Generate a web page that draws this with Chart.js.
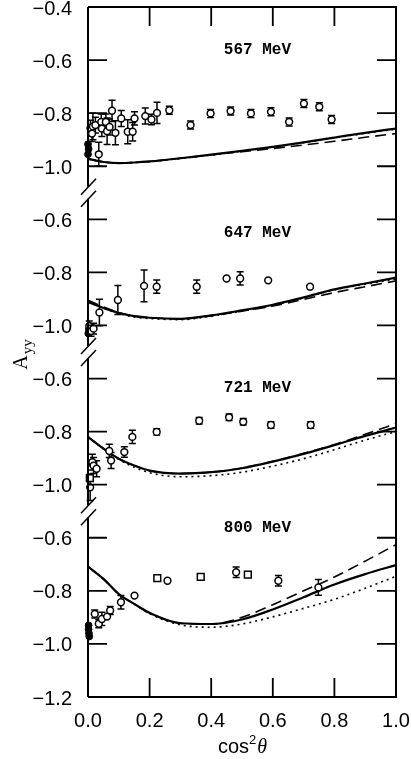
<!DOCTYPE html>
<html>
<head>
<meta charset="utf-8">
<script src="https://cdn.jsdelivr.net/npm/chart.js@4.4.1/dist/chart.umd.min.js"></script>
<style>
  html, body { margin: 0; padding: 0; background: #fff; }
  #grafico { display: block; }
</style>
</head>
<body>
<canvas id="grafico" width="411" height="759"></canvas>
<script>
// ✅ Datos: cuatro paneles apilados (567, 647, 721, 800 MeV)
const energias = ['567 MeV', '647 MeV', '721 MeV', '800 MeV'];
const desplazamientos = [1.8, 1.2, 0.6, 0.0];      // cada panel se sube en el eje virtual
const alturaEtiqueta = [-0.562, -0.652, -0.634, -0.562];

// eje Y virtual de -1.2 a 1.4, con etiquetas que se repiten por panel
const yTicks = [-1.2, -1.0, -0.8, -0.6, -0.4, -0.2, 0.0, 0.2, 0.4, 0.6, 0.8, 1.0, 1.2, 1.4];
const yTickLabels = ['-1.2', '-1.0', '-0.8', '-0.6', '-1.0', '-0.8', '-0.6', '-1.0', '-0.8', '-0.6', '-1.0', '-0.8', '-0.6', '-0.4'];
const xTicks = [0.0, 0.2, 0.4, 0.6, 0.8, 1.0];

// curvas teóricas
const curvaX = [0, 0.05, 0.1, 0.15, 0.2, 0.3, 0.4, 0.5, 0.6, 0.7, 0.8, 0.9, 1.0];

const solido567 = [-0.972, -0.984, -0.988, -0.986, -0.982, -0.970, -0.956, -0.942, -0.927, -0.910, -0.892, -0.874, -0.858];
const guion567  = [-0.972, -0.984, -0.988, -0.986, -0.982, -0.970, -0.957, -0.945, -0.933, -0.920, -0.906, -0.891, -0.877];
const punto567  = [-0.972, -0.984, -0.988, -0.986, -0.983, -0.971, -0.958, -0.943, -0.928, -0.911, -0.893, -0.876, -0.860];

const solido647 = [-0.912, -0.934, -0.953, -0.965, -0.971, -0.975, -0.962, -0.943, -0.922, -0.894, -0.864, -0.842, -0.820];
const guion647  = [-0.905, -0.930, -0.951, -0.964, -0.971, -0.975, -0.963, -0.946, -0.927, -0.902, -0.876, -0.854, -0.832];
const punto647  = [-0.912, -0.935, -0.955, -0.968, -0.974, -0.978, -0.965, -0.946, -0.924, -0.896, -0.866, -0.845, -0.825];

const solido721 = [-0.820, -0.864, -0.902, -0.928, -0.947, -0.958, -0.953, -0.938, -0.913, -0.884, -0.851, -0.816, -0.785];
const guion721  = [-0.820, -0.864, -0.902, -0.928, -0.947, -0.958, -0.953, -0.937, -0.912, -0.882, -0.849, -0.810, -0.770];
const punto721  = [-0.820, -0.865, -0.905, -0.934, -0.955, -0.970, -0.966, -0.953, -0.930, -0.902, -0.868, -0.832, -0.800];

const solido800 = [-0.709, -0.755, -0.812, -0.849, -0.883, -0.922, -0.925, -0.908, -0.870, -0.824, -0.776, -0.737, -0.703];
const guion800  = [-0.709, -0.755, -0.812, -0.849, -0.883, -0.922, -0.925, -0.900, -0.852, -0.800, -0.748, -0.688, -0.626];
const punto800  = [-0.709, -0.755, -0.812, -0.850, -0.886, -0.928, -0.937, -0.925, -0.898, -0.866, -0.832, -0.790, -0.745];

// datos experimentales (círculos abiertos, con error)
const ptsX567 = [0.008, 0.013, 0.016, 0.024, 0.035, 0.043, 0.045, 0.058, 0.062, 0.070, 0.078, 0.089, 0.108, 0.129, 0.145, 0.151, 0.186, 0.206, 0.224, 0.264, 0.333, 0.398, 0.463, 0.529, 0.594, 0.653, 0.701, 0.751, 0.791];
const ptsY567 = [-0.857, -0.877, -0.850, -0.845, -0.955, -0.833, -0.858, -0.833, -0.868, -0.852, -0.791, -0.874, -0.820, -0.870, -0.870, -0.820, -0.811, -0.824, -0.799, -0.789, -0.845, -0.801, -0.792, -0.801, -0.795, -0.833, -0.764, -0.776, -0.824];
const ptsE567 = [0.03, 0.03, 0.05, 0.03, 0.045, 0.03, 0.03, 0.03, 0.05, 0.03, 0.04, 0.045, 0.03, 0.045, 0.035, 0.025, 0.03, 0.02, 0.04, 0.015, 0.015, 0.015, 0.015, 0.015, 0.015, 0.015, 0.015, 0.015, 0.015];
const llenoX567 = [0.0, 0.0, 0.002];
const llenoY567 = [-0.917, -0.955, -0.935];

const ptsX647 = [0.004, 0.010, 0.018, 0.037, 0.097, 0.182, 0.223, 0.353, 0.450, 0.494, 0.585, 0.721];
const ptsY647 = [-1.003, -1.021, -1.012, -0.951, -0.904, -0.851, -0.854, -0.854, -0.823, -0.823, -0.830, -0.854];
const ptsE647 = [0.02, 0.02, 0.02, 0.05, 0.055, 0.06, 0.025, 0.025, 0, 0.025, 0, 0];
const llenoX647 = [0.001, 0.003];
const llenoY647 = [-1.030, -1.015];

const ptsX721 = [0.007, 0.014, 0.018, 0.028, 0.069, 0.075, 0.118, 0.144, 0.223, 0.361, 0.458, 0.504, 0.594, 0.723];
const ptsY721 = [-1.010, -0.915, -0.928, -0.940, -0.873, -0.909, -0.877, -0.820, -0.801, -0.759, -0.746, -0.763, -0.775, -0.775];
const ptsE721 = [0.05, 0.03, 0.03, 0.03, 0.025, 0.03, 0.02, 0.025, 0.012, 0.012, 0.012, 0.012, 0.012, 0.012];
const llenoX721 = [0.016];
const llenoY721 = [-0.925];
const cuadX721 = [0.006];
const cuadY721 = [-0.975];

const ptsX800 = [0.022, 0.035, 0.045, 0.062, 0.072, 0.107, 0.151, 0.258, 0.481, 0.618, 0.748];
const ptsY800 = [-0.887, -0.924, -0.906, -0.897, -0.874, -0.843, -0.818, -0.762, -0.730, -0.762, -0.787];
const ptsE800 = [0.015, 0.015, 0.025, 0, 0.015, 0.025, 0, 0, 0.02, 0.02, 0.03];
const llenoX800 = [0.002, 0.002, 0.003, 0.004];
const llenoY800 = [-0.930, -0.945, -0.960, -0.972];
const cuadX800 = [0.225, 0.366, 0.519];
const cuadY800 = [-0.752, -0.747, -0.739];

const paneles = [
  { solido: solido567, guion: guion567, punto: punto567, px: ptsX567, py: ptsY567, pe: ptsE567, lx: llenoX567, ly: llenoY567, cx: [], cy: [] },
  { solido: solido647, guion: guion647, punto: punto647, px: ptsX647, py: ptsY647, pe: ptsE647, lx: llenoX647, ly: llenoY647, cx: [], cy: [] },
  { solido: solido721, guion: guion721, punto: punto721, px: ptsX721, py: ptsY721, pe: ptsE721, lx: llenoX721, ly: llenoY721, cx: cuadX721, cy: cuadY721 },
  { solido: solido800, guion: guion800, punto: punto800, px: ptsX800, py: ptsY800, pe: ptsE800, lx: llenoX800, ly: llenoY800, cx: cuadX800, cy: cuadY800 }
];

// ✅ Construir los datasets (valores desplazados al eje virtual)
const datasets = [];
const barrasError = [];
paneles.forEach((p, i) => {
  const d = desplazamientos[i];
  const curva = (arr, dash, width) => ({
    type: 'line',
    data: curvaX.map((x, k) => ({ x: x, y: arr[k] + d })),
    borderColor: '#000',
    borderWidth: width,
    borderDash: dash,
    pointRadius: 0,
    tension: 0.4,
    cubicInterpolationMode: 'monotone',
    fill: false,
    order: 2
  });
  datasets.push(curva(p.solido, [], 2.2));
  datasets.push(curva(p.guion, [11, 6], 1.6));
  datasets.push(curva(p.punto, [2, 4], 1.6));

  datasets.push({
    type: 'scatter',
    data: p.px.map((x, k) => ({ x: x, y: p.py[k] + d })),
    pointStyle: 'circle',
    pointRadius: 3.4,
    pointBorderWidth: 1.5,
    pointBorderColor: '#000',
    pointBackgroundColor: '#fff',
    clip: false,
    order: 1
  });
  datasets.push({
    type: 'scatter',
    data: p.lx.map((x, k) => ({ x: x, y: p.ly[k] + d })),
    pointStyle: 'circle',
    pointRadius: 3.4,
    pointBorderWidth: 1,
    pointBorderColor: '#000',
    pointBackgroundColor: '#000',
    clip: false,
    order: 1
  });
  datasets.push({
    type: 'scatter',
    data: p.cx.map((x, k) => ({ x: x, y: p.cy[k] + d })),
    pointStyle: 'rect',
    pointRadius: 4.8,
    pointBorderWidth: 1.5,
    pointBorderColor: '#000',
    pointBackgroundColor: '#fff',
    clip: false,
    order: 1
  });
  p.px.forEach((x, k) => {
    if (p.pe[k] > 0) barrasError.push({ x: x, y: p.py[k] + d, e: p.pe[k] });
  });
});

// ✅ Plugin: marco con cortes, ticks interiores, barras de error y textos
const marco = {
  id: 'marco',
  beforeDatasetsDraw(chart) {
    const { ctx, scales: { x, y } } = chart;
    ctx.save();
    ctx.strokeStyle = '#000';
    ctx.lineWidth = 1.5;
    barrasError.forEach(b => {
      const px = x.getPixelForValue(b.x);
      const top = y.getPixelForValue(b.y + b.e);
      const bot = y.getPixelForValue(b.y - b.e);
      ctx.beginPath();
      ctx.moveTo(px, top); ctx.lineTo(px, bot);
      ctx.moveTo(px - 3.5, top); ctx.lineTo(px + 3.5, top);
      ctx.moveTo(px - 3.5, bot); ctx.lineTo(px + 3.5, bot);
      ctx.stroke();
    });
    ctx.restore();
  },
  afterDatasetsDraw(chart) {
    const { ctx, chartArea: a, scales: { x, y } } = chart;
    ctx.save();
    ctx.strokeStyle = '#000';
    ctx.lineWidth = 2;

    // cortes del eje izquierdo entre paneles
    const cortes = desplazamientos.slice(0, 3).map(d => y.getPixelForValue(d - 1.1));

    ctx.beginPath();
    ctx.moveTo(a.left, a.top); ctx.lineTo(a.right, a.top);
    ctx.lineTo(a.right, a.bottom); ctx.lineTo(a.left, a.bottom);
    let yIni = a.bottom;
    cortes.slice().reverse().forEach(c => {
      ctx.moveTo(a.left, yIni); ctx.lineTo(a.left, c + 6);
      yIni = c - 6;
    });
    ctx.moveTo(a.left, yIni); ctx.lineTo(a.left, a.top);
    ctx.stroke();

    ctx.lineWidth = 1.5;
    cortes.forEach(c => {
      ctx.beginPath();
      [-6, 6].forEach(o => {
        ctx.moveTo(a.left - 7, c + o + 8);
        ctx.lineTo(a.left + 8, c + o - 8);
      });
      ctx.stroke();
    });

    // ticks hacia dentro
    ctx.lineWidth = 1.8;
    ctx.beginPath();
    yTicks.forEach(v => {
      const py = y.getPixelForValue(v);
      ctx.moveTo(a.left, py); ctx.lineTo(a.left + 19, py);
      ctx.moveTo(a.right, py); ctx.lineTo(a.right - 19, py);
    });
    xTicks.forEach(v => {
      const px = x.getPixelForValue(v);
      ctx.moveTo(px, a.bottom); ctx.lineTo(px, a.bottom - 19);
      ctx.moveTo(px, a.top); ctx.lineTo(px, a.top + 19);
    });
    ctx.stroke();

    // etiquetas de energía
    ctx.fillStyle = '#000';
    ctx.font = "bold 16px 'Liberation Mono'";
    ctx.textAlign = 'center';
    ctx.textBaseline = 'middle';
    energias.forEach((t, i) => {
      ctx.fillText(t, x.getPixelForValue(0.55), y.getPixelForValue(alturaEtiqueta[i] + desplazamientos[i]));
    });

    // título eje Y: A con subíndice yy
    ctx.save();
    ctx.translate(27, 355);
    ctx.rotate(-Math.PI / 2);
    ctx.textAlign = 'left';
    ctx.textBaseline = 'alphabetic';
    ctx.font = "20px 'Liberation Serif'";
    const wA = ctx.measureText('A').width;
    ctx.font = "15px 'Liberation Serif'";
    const wS = ctx.measureText('yy').width;
    const x0 = -(wA + wS) / 2;
    ctx.font = "20px 'Liberation Serif'";
    ctx.fillText('A', x0, 0);
    ctx.font = "15px 'Liberation Serif'";
    ctx.fillText('yy', x0 + wA + 1, 5);
    ctx.restore();

    // título eje X: cos²θ
    ctx.textAlign = 'left';
    ctx.textBaseline = 'alphabetic';
    ctx.font = "20px 'Liberation Sans'";
    const wc = ctx.measureText('cos').width;
    ctx.font = "13px 'Liberation Sans'";
    const w2 = ctx.measureText('2').width;
    ctx.font = "italic 20px 'Liberation Serif'";
    const wt = ctx.measureText('θ').width;
    let cx = (a.left + a.right) / 2 - (wc + w2 + wt) / 2;
    ctx.font = "20px 'Liberation Sans'";
    ctx.fillText('cos', cx, 753);
    ctx.font = "13px 'Liberation Sans'";
    ctx.fillText('2', cx + wc, 744);
    ctx.font = "italic 20px 'Liberation Serif'";
    ctx.fillText('θ', cx + wc + w2 + 1, 753);
    ctx.restore();
  }
};

const ctx = document.getElementById('grafico').getContext('2d');
new Chart(ctx, {
  type: 'line',
  data: { datasets: datasets },
  options: {
    responsive: false,
    animation: false,
    devicePixelRatio: 1,
    layout: { padding: { top: 7, right: 15, bottom: 0, left: 0 } },
    plugins: {
      legend: { display: false },
      tooltip: { enabled: false },
      title: { display: false }
    },
    scales: {
      x: {
        type: 'linear',
        min: 0,
        max: 1,
        grid: { display: false, drawTicks: false },
        border: { display: false },
        afterBuildTicks: s => { s.ticks = xTicks.map(v => ({ value: v })); },
        afterFit: s => { s.height = 62; s.paddingLeft = 0; s.paddingRight = 0; },
        ticks: {
          color: '#000',
          padding: 12,
          maxRotation: 0,
          font: { family: "'Liberation Sans', Arial", size: 20 },
          callback: v => Number(v).toFixed(1)
        }
      },
      y: {
        type: 'linear',
        min: -1.2,
        max: 1.4,
        grid: { display: false, drawTicks: false },
        border: { display: false },
        afterBuildTicks: s => { s.ticks = yTicks.map(v => ({ value: v })); },
        afterFit: s => { s.width = 88; s.paddingTop = 0; s.paddingBottom = 0; },
        ticks: {
          color: '#000',
          padding: 16,
          labelOffset: 2,
          font: { family: "'Liberation Sans', Arial", size: 20 },
          callback: (v, i) => yTickLabels[i].replace('-', '\u2212')
        }
      }
    }
  },
  plugins: [marco]
});
</script>
</body>
</html>
